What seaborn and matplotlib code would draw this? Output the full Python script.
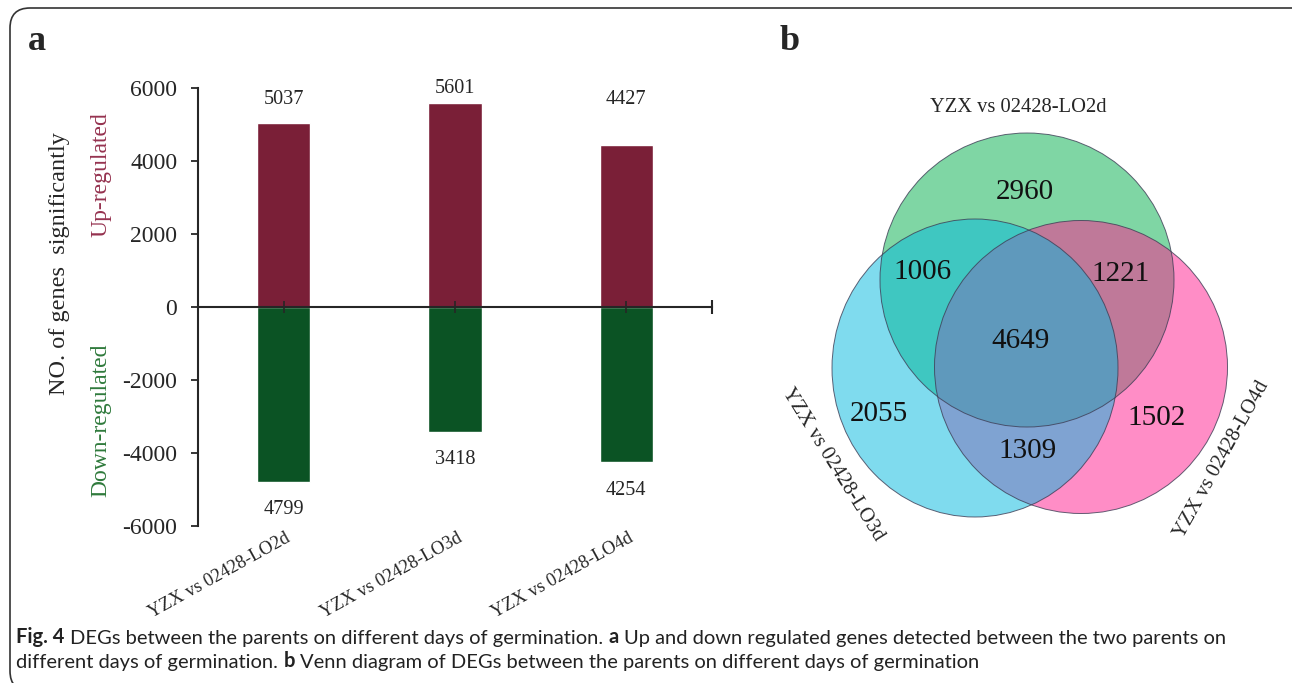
import matplotlib
matplotlib.use("Agg")
import matplotlib.pyplot as plt
from matplotlib.patches import Circle, Ellipse, FancyBboxPatch
from matplotlib.transforms import IdentityTransform
import pandas as pd
import seaborn as sns

# ---- data: panel a (bar chart)
comparisons = ["YZX vs 02428-LO2d", "YZX vs 02428-LO3d", "YZX vs 02428-LO4d"]
up_regulated = [5037, 5601, 4427]
down_regulated = [4799, 3418, 4254]
y_ticks = [6000, 4000, 2000, 0, -2000, -4000, -6000]

# ---- data: panel b (venn)
venn_set_labels = ["YZX vs 02428-LO2d", "YZX vs 02428-LO3d", "YZX vs 02428-LO4d"]
venn_regions = ["LO2d", "LO3d", "LO4d", "LO2d&LO3d", "LO2d&LO4d", "LO3d&LO4d", "all"]
venn_counts = [2960, 2055, 1502, 1006, 1221, 1309, 4649]

caption_line1 = [("Fig. 4", True),
                 ("DEGs between the parents on different days of germination.", False),
                 ("a", True),
                 ("Up and down regulated genes detected between the two parents on", False)]
caption_line2 = [("different days of germination.", False),
                 ("b", True),
                 ("Venn diagram of DEGs between the parents on different days of germination", False)]

UP = "#7a1f37"
DOWN = "#0b5324"

sns.set_style("white")
plt.rcParams["font.family"] = ["Liberation Serif", "DejaVu Serif"]
plt.rcParams["axes.unicode_minus"] = False

W, H = 1292, 683
fig = plt.figure(figsize=(W / 100, H / 100), dpi=100)

# pixel-space canvas for venn and free text
canvas = fig.add_axes([0, 0, 1, 1])
canvas.set_xlim(0, W)
canvas.set_ylim(H, 0)
canvas.axis("off")

# rounded frame in display pixels (origin bottom-left); right and bottom sides fall off the page
fig.patches.append(FancyBboxPatch((10, -8), 1340, H - 8 + 8,
                                  boxstyle="round,pad=0,rounding_size=20",
                                  transform=IdentityTransform(), figure=fig,
                                  fill=False, ec="#333333", lw=1.2))

# ---- panel a
ax = fig.add_axes([198 / W, 1 - 526 / H, 514 / W, 438 / H])
ax.patch.set_alpha(0)
df = pd.DataFrame({
    "comparison": comparisons * 2,
    "genes": up_regulated + [-v for v in down_regulated],
    "direction": ["Up"] * 3 + ["Down"] * 3,
})
sns.barplot(data=df, x="comparison", y="genes", hue="direction", dodge=False,
            palette={"Up": UP, "Down": DOWN}, width=0.31, saturation=1,
            legend=False, ax=ax)
ax.set_xlabel("")
ax.set_ylabel("")
ax.set_xlim(-0.5, 2.5)
ax.set_ylim(-6000, 6000)
ax.set_axisbelow(False)
for s in ["top", "right"]:
    ax.spines[s].set_visible(False)
ax.spines["bottom"].set_position(("data", 0))
ax.spines["bottom"].set_linewidth(1.5)
ax.spines["left"].set_linewidth(1.5)
ax.spines["bottom"].set_zorder(5)

ax.set_yticks(y_ticks)
ax.set_yticklabels([str(t) for t in y_ticks])
ax.tick_params(axis="y", left=True, direction="out", length=5, width=1.3, pad=10,
               labelsize=17)
ax.set_xticks(range(len(comparisons)))
ax.set_xticklabels([])
ax.tick_params(axis="x", which="major", bottom=True, direction="inout", length=9, width=1.2)
ax.set_xticks([len(comparisons) - 0.5], minor=True)
ax.tick_params(axis="x", which="minor", bottom=True, direction="inout", length=10, width=1.5)

up_offsets = [17, 10, 33]
for i, v in enumerate(up_regulated):
    ax.annotate(str(v), (i, v), xytext=(0, up_offsets[i]), textcoords="offset points",
                ha="center", va="center", fontsize=14.6)
for i, v in enumerate(down_regulated):
    ax.annotate(str(v), (i, -v), xytext=(0, -20), textcoords="offset points",
                ha="center", va="center", fontsize=14.6)
for i, lab in enumerate(comparisons):
    ax.annotate(lab, (i, 0), xycoords=("data", "axes fraction"), xytext=(4, -8),
                textcoords="offset points", ha="right", va="center", rotation=29,
                rotation_mode="anchor", fontsize=13.3)

canvas.text(60, 264, "NO. of genes  significantly", rotation=90, ha="center", va="center", fontsize=17.5)
canvas.text(101, 175, "Up-regulated", rotation=90, ha="center", va="center", fontsize=17, color="#95324f")
canvas.text(101, 420, "Down-regulated", rotation=90, ha="center", va="center", fontsize=17, color="#2f7a3c")

canvas.text(28, 50, "a", fontsize=26, fontweight="bold", va="baseline")
canvas.text(780, 50, "b", fontsize=26, fontweight="bold", va="baseline")

# ---- panel b: venn (green, pink, then cyan on top)
venn_shapes = [
    ("LO2d", Circle((1027, 280), 147), "#00af4b"),
    ("LO4d", Circle((1081, 367), 146.5), "#ff1d8f"),
    ("LO3d", Ellipse((975, 368), 286, 298), "#00b9df"),
]
for name, shape, col in venn_shapes:
    shape.set_facecolor(col)
    shape.set_alpha(0.5)
    shape.set_edgecolor("none")
    canvas.add_patch(shape)
for name, shape, col in venn_shapes:
    if isinstance(shape, Circle):
        edge = Circle(shape.center, shape.radius)
    else:
        edge = Ellipse(shape.center, shape.width, shape.height)
    edge.set_facecolor("none")
    edge.set_edgecolor("#3d3d55")
    edge.set_linewidth(0.7)
    edge.set_alpha(0.8)
    canvas.add_patch(edge)

region_pos = {
    "LO2d": (1025, 192), "LO3d": (879, 414), "LO4d": (1157, 418),
    "LO2d&LO3d": (922, 272), "LO2d&LO4d": (1121, 274), "LO3d&LO4d": (1028, 451),
    "all": (1021, 341),
}
for reg, n in zip(venn_regions, venn_counts):
    x, y = region_pos[reg]
    canvas.text(x, y, str(n), ha="center", va="center", fontsize=21, color="#111111")

set_label_pos = [((1018, 107), 0), ((833, 464), -58), ((1222, 460), 61)]
for lab, ((x, y), rot) in zip(venn_set_labels, set_label_pos):
    canvas.text(x, y, lab, ha="center", va="center", rotation=rot,
                rotation_mode="anchor", fontsize=14.8)

# ---- caption
cap_size = 14.5
gap = 0.27 * cap_size


def caption_line(segments, x, y):
    prev = None
    for text, bold in segments:
        kw = dict(fontsize=cap_size, family=["Lato", "DejaVu Sans"],
                  fontweight="bold" if bold else "normal", color="#222222")
        if prev is None:
            prev = canvas.text(x, y, text, va="baseline", **kw)
        else:
            prev = canvas.annotate(text, xy=(1, 0), xycoords=prev, xytext=(gap, 0),
                                   textcoords="offset points", va="bottom", **kw)


caption_line(caption_line1, 16, 643)
caption_line(caption_line2, 16, 668)

fig.savefig("out.png", dpi=100)
